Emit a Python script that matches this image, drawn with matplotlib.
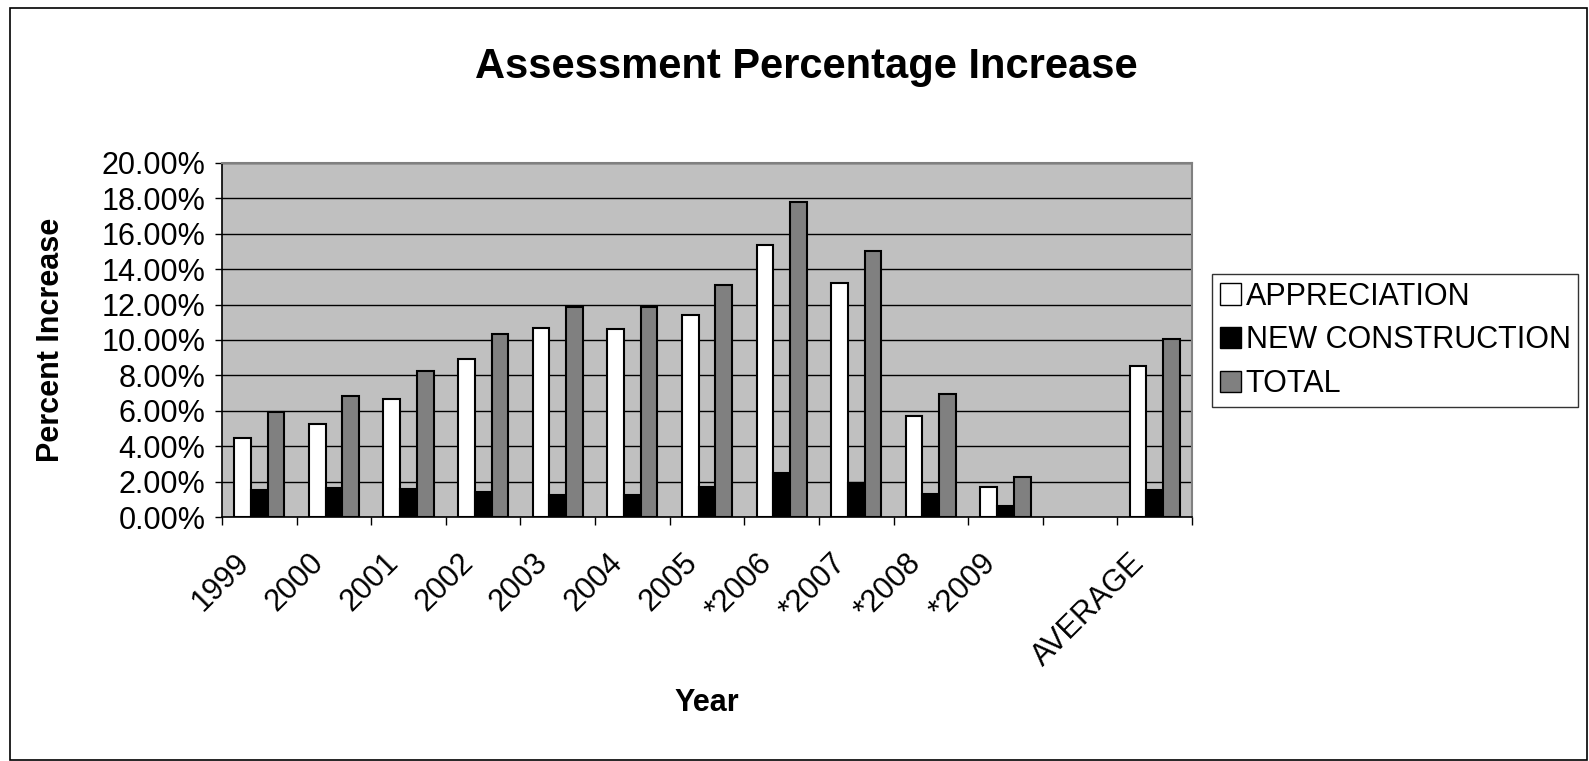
import matplotlib
matplotlib.use("Agg")
import matplotlib.pyplot as plt
from matplotlib.patches import Rectangle
from matplotlib.ticker import FuncFormatter, FixedLocator
from matplotlib.transforms import ScaledTranslation
import numpy as np

plt.rcParams['font.family'] = ['Liberation Sans', 'DejaVu Sans']

categories = ["1999", "2000", "2001", "2002", "2003", "2004", "2005",
              "*2006", "*2007", "*2008", "*2009", "", "AVERAGE"]
appreciation = [4.47, 5.26, 6.69, 8.95, 10.66, 10.64, 11.41, 15.36, 13.20, 5.73, 1.71, np.nan, 8.55]
new_construction = [1.54, 1.64, 1.60, 1.45, 1.24, 1.24, 1.73, 2.48, 1.95, 1.30, 0.64, np.nan, 1.52]
total = [5.94, 6.84, 8.23, 10.36, 11.88, 11.84, 13.10, 17.80, 15.04, 6.97, 2.29, np.nan, 10.06]
series_names = ["APPRECIATION", "NEW CONSTRUCTION", "TOTAL"]
series_colors = ["#FFFFFF", "#000000", "#808080"]

W, H = 1589, 761
fig = plt.figure(figsize=(W / 100, H / 100), dpi=100)
ax = fig.add_axes([222 / W, 1 - 517.3 / H, (1192 - 222) / W, (517.3 - 162.7) / H])
ax.set_facecolor("#C0C0C0")

x = np.arange(len(categories))
bw = 0.224
for i, (vals, name, col) in enumerate(zip([appreciation, new_construction, total], series_names, series_colors)):
    ax.bar(x + (i - 1) * bw, vals, width=bw, color=col, edgecolor="black",
           linewidth=1.5, label=name, zorder=3)

ax.set_xlim(-0.5, len(categories) - 0.5)
ax.set_ylim(0, 20)
ax.set_yticks(np.arange(0, 20.01, 2))
ax.yaxis.set_major_formatter(FuncFormatter(lambda v, p: f"{v:.2f}%"))
ax.yaxis.grid(True, color="black", linewidth=1.0, zorder=1)
ax.set_axisbelow(True)

major = np.arange(-0.5, len(categories), 1.0)
ax.xaxis.set_major_locator(FixedLocator(major))
ax.xaxis.set_minor_locator(FixedLocator(x))
ax.set_xticklabels([""] * len(major))
ax.set_xticklabels(categories, minor=True, rotation=45, ha="right",
                   rotation_mode="anchor", fontsize=22)
ax.tick_params(axis="x", which="major", length=6, width=1, color="black", direction="out")
ax.tick_params(axis="x", which="minor", length=0, pad=12)
ax.tick_params(axis="y", length=5, width=1, labelsize=22, pad=7)
offset = ScaledTranslation(-25 / 100, -14 / 100, fig.dpi_scale_trans)
for lbl in ax.xaxis.get_minorticklabels():
    lbl.set_transform(lbl.get_transform() + offset)

for s in ["top", "right"]:
    ax.spines[s].set_color("#808080")
    ax.spines[s].set_linewidth(1.5)
for s in ["left", "bottom"]:
    ax.spines[s].set_color("black")
    ax.spines[s].set_linewidth(1.2)

ax.set_ylabel("Percent Increase", fontsize=22, fontweight="bold")
ax.yaxis.set_label_coords((66 - 222) / 970, 0.5)
fig.text(707 / W, 1 - 703 / H, "Year", fontsize=22, fontweight="bold", ha="center", va="center")
fig.text(806 / W, 1 - 67 / H, "Assessment Percentage Increase", fontsize=30,
         fontweight="bold", ha="center", va="center")

leg = ax.legend(loc="upper left", bbox_to_anchor=(1212 / W, 1 - 274 / H),
                bbox_transform=fig.transFigure, borderaxespad=0, fontsize=22,
                frameon=True, fancybox=False, edgecolor="black",
                handlelength=0.7, handleheight=0.7, handletextpad=0.15,
                labelspacing=0.45, borderpad=0.25)
leg.get_frame().set_linewidth(1.0)
for h in leg.legend_handles:
    h.set_linewidth(1.0)

fig.patches.append(Rectangle((10 / W, 1 - 760 / H), (1587 - 10) / W, (760 - 8) / H,
                             transform=fig.transFigure, fill=False,
                             edgecolor="black", linewidth=1.2))

fig.savefig("out.png", dpi=100, facecolor="white")
